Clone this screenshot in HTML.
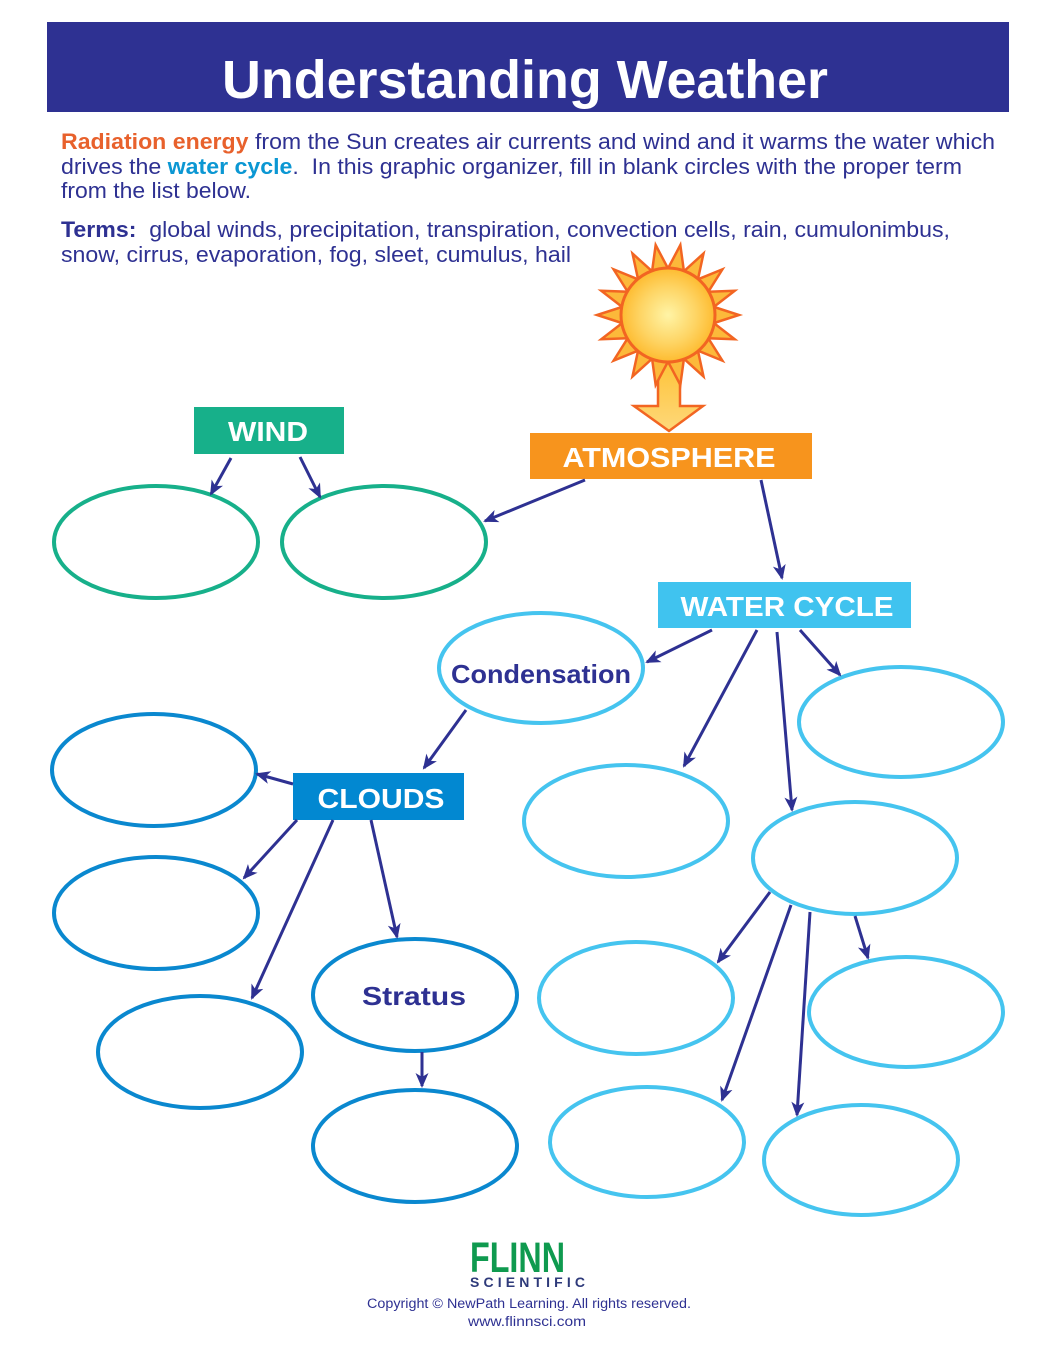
<!DOCTYPE html>
<html>
<head>
<meta charset="utf-8">
<style>
  html,body{margin:0;padding:0;background:#fff;}
  body{width:1046px;height:1357px;overflow:hidden;}
  svg{display:block;}
  text{font-family:"Liberation Sans", sans-serif;white-space:pre;}
</style>
</head>
<body>
<svg width="1046" height="1357" viewBox="0 0 1046 1357" xmlns="http://www.w3.org/2000/svg" xml:space="preserve">
  <defs>
    <marker id="ah" markerUnits="userSpaceOnUse" markerWidth="16" markerHeight="14" refX="13" refY="7" orient="auto">
      <path d="M0,0.5 L15,7 L0,13.5 L4,7 z" fill="#2e3192"/>
    </marker>
    <radialGradient id="sg" cx="0.5" cy="0.5" r="0.55">
      <stop offset="0" stop-color="#fff4a6"/>
      <stop offset="0.55" stop-color="#fed463"/>
      <stop offset="1" stop-color="#fdb523"/>
    </radialGradient>
    <linearGradient id="ag" x1="0" y1="0" x2="0" y2="1">
      <stop offset="0" stop-color="#fdc02f"/>
      <stop offset="1" stop-color="#fed87a"/>
    </linearGradient>
  </defs>

  <!-- Header -->
  <rect x="47" y="22" width="962" height="90" fill="#2e3192"/>
  <text x="525" y="98" text-anchor="middle" font-size="54" font-weight="bold" fill="#fff" textLength="606" lengthAdjust="spacingAndGlyphs">Understanding Weather</text>

  <!-- Intro paragraph -->
  <g font-size="22.5" fill="#2e3192">
    <text x="61" y="149" textLength="934" lengthAdjust="spacingAndGlyphs"><tspan fill="#e8612c" font-weight="bold">Radiation energy</tspan> from the Sun creates air currents and wind and it warms the water which</text>
    <text x="61" y="174" textLength="901" lengthAdjust="spacingAndGlyphs">drives the <tspan fill="#0b97d3" font-weight="bold">water cycle</tspan>.  In this graphic organizer, fill in blank circles with the proper term</text>
    <text x="61" y="198" textLength="190" lengthAdjust="spacingAndGlyphs">from the list below.</text>
    <text x="61" y="237" textLength="889" lengthAdjust="spacingAndGlyphs"><tspan font-weight="bold">Terms:</tspan>  global winds, precipitation, transpiration, convection cells, rain, cumulonimbus,</text>
    <text x="61" y="262" textLength="510" lengthAdjust="spacingAndGlyphs">snow, cirrus, evaporation, fog, sleet, cumulus, hail</text>
  </g>

  <!-- Sun -->
  <g id="sun">
    <!-- arrow down -->
    <polygon points="658,352 680,352 680,406 703,406 669,431 634,406 658,406" fill="url(#ag)" stroke="#f26522" stroke-width="2.5" stroke-linejoin="miter"/>
    <g fill="#fcb93a" stroke="#f26522" stroke-width="2.5" stroke-linejoin="miter">
      <g transform="translate(668,315)">
        <polygon points="-9,-43 0,-71 9,-43" transform="rotate(10)"/>
        <polygon points="-9,-43 0,-71 9,-43" transform="rotate(30)"/>
        <polygon points="-9,-43 0,-71 9,-43" transform="rotate(50)"/>
        <polygon points="-9,-43 0,-71 9,-43" transform="rotate(70)"/>
        <polygon points="-9,-43 0,-71 9,-43" transform="rotate(90)"/>
        <polygon points="-9,-43 0,-71 9,-43" transform="rotate(110)"/>
        <polygon points="-9,-43 0,-71 9,-43" transform="rotate(130)"/>
        <polygon points="-9,-43 0,-71 9,-43" transform="rotate(150)"/>
        <polygon points="-9,-43 0,-71 9,-43" transform="rotate(170)"/>
        <polygon points="-9,-43 0,-71 9,-43" transform="rotate(190)"/>
        <polygon points="-9,-43 0,-71 9,-43" transform="rotate(210)"/>
        <polygon points="-9,-43 0,-71 9,-43" transform="rotate(230)"/>
        <polygon points="-9,-43 0,-71 9,-43" transform="rotate(250)"/>
        <polygon points="-9,-43 0,-71 9,-43" transform="rotate(270)"/>
        <polygon points="-9,-43 0,-71 9,-43" transform="rotate(290)"/>
        <polygon points="-9,-43 0,-71 9,-43" transform="rotate(310)"/>
        <polygon points="-9,-43 0,-71 9,-43" transform="rotate(330)"/>
        <polygon points="-9,-43 0,-71 9,-43" transform="rotate(350)"/>
      </g>
    </g>
    <circle cx="668" cy="315" r="47" fill="url(#sg)" stroke="#f26522" stroke-width="3"/>
  </g>

  <!-- Boxes -->
  <rect x="194" y="407" width="150" height="47" fill="#17b08a"/>
  <text x="268" y="441" text-anchor="middle" font-size="28" font-weight="bold" fill="#fff" textLength="80" lengthAdjust="spacingAndGlyphs">WIND</text>

  <rect x="530" y="433" width="282" height="46" fill="#f7941d"/>
  <text x="669" y="467" text-anchor="middle" font-size="28" font-weight="bold" fill="#fff" textLength="213" lengthAdjust="spacingAndGlyphs">ATMOSPHERE</text>

  <rect x="658" y="582" width="253" height="46" fill="#40c3ef"/>
  <text x="787" y="616" text-anchor="middle" font-size="28" font-weight="bold" fill="#fff" textLength="213" lengthAdjust="spacingAndGlyphs">WATER CYCLE</text>

  <rect x="293" y="773" width="171" height="47" fill="#0288d1"/>
  <text x="381" y="808" text-anchor="middle" font-size="28" font-weight="bold" fill="#fff" textLength="127" lengthAdjust="spacingAndGlyphs">CLOUDS</text>

  <!-- Green ellipses -->
  <g fill="none" stroke="#17b08a" stroke-width="4">
    <ellipse cx="156" cy="542" rx="102" ry="56"/>
    <ellipse cx="384" cy="542" rx="102" ry="56"/>
  </g>

  <!-- Light blue ellipses -->
  <g fill="none" stroke="#45c4ef" stroke-width="4">
    <ellipse cx="541" cy="668" rx="102" ry="55"/>
    <ellipse cx="901" cy="722" rx="102" ry="55"/>
    <ellipse cx="626" cy="821" rx="102" ry="56"/>
    <ellipse cx="855" cy="858" rx="102" ry="56"/>
    <ellipse cx="636" cy="998" rx="97" ry="56"/>
    <ellipse cx="906" cy="1012" rx="97" ry="55"/>
    <ellipse cx="647" cy="1142" rx="97" ry="55"/>
    <ellipse cx="861" cy="1160" rx="97" ry="55"/>
  </g>

  <!-- Cloud (darker blue) ellipses -->
  <g fill="none" stroke="#0a88cf" stroke-width="4">
    <ellipse cx="154" cy="770" rx="102" ry="56"/>
    <ellipse cx="156" cy="913" rx="102" ry="56"/>
    <ellipse cx="200" cy="1052" rx="102" ry="56"/>
    <ellipse cx="415" cy="995" rx="102" ry="56"/>
    <ellipse cx="415" cy="1146" rx="102" ry="56"/>
  </g>

  <text x="541" y="683" text-anchor="middle" font-size="26" font-weight="bold" fill="#2e3192" textLength="180" lengthAdjust="spacingAndGlyphs">Condensation</text>
  <text x="414" y="1005" text-anchor="middle" font-size="26" font-weight="bold" fill="#2e3192" textLength="104" lengthAdjust="spacingAndGlyphs">Stratus</text>

  <!-- Arrows -->
  <g stroke="#2e3192" stroke-width="3" fill="none" marker-end="url(#ah)">
    <line x1="231" y1="458" x2="211" y2="494"/>
    <line x1="300" y1="457" x2="320" y2="497"/>
    <line x1="585" y1="480" x2="485" y2="521"/>
    <line x1="761" y1="480" x2="782" y2="578"/>

    <line x1="712" y1="630" x2="647" y2="662"/>
    <line x1="757" y1="630" x2="684" y2="766"/>
    <line x1="777" y1="632" x2="792" y2="810"/>
    <line x1="800" y1="630" x2="840" y2="675"/>

    <line x1="770" y1="892" x2="718" y2="962"/>
    <line x1="791" y1="905" x2="722" y2="1100"/>
    <line x1="810" y1="912" x2="797" y2="1115"/>
    <line x1="855" y1="916" x2="868" y2="958"/>

    <line x1="466" y1="710" x2="424" y2="768"/>
    <line x1="293" y1="784" x2="257" y2="774"/>
    <line x1="297" y1="820" x2="244" y2="878"/>
    <line x1="333" y1="820" x2="252" y2="998"/>
    <line x1="371" y1="820" x2="397" y2="937"/>
    <line x1="422" y1="1052" x2="422" y2="1086"/>
  </g>

  <!-- Footer -->
  <text x="470" y="1272" font-size="43" font-weight="bold" fill="#0f9a4f" textLength="95" lengthAdjust="spacingAndGlyphs">FLINN</text>
  <text x="470" y="1287" font-size="14" font-weight="bold" fill="#2e3a7a" letter-spacing="3" textLength="118" lengthAdjust="spacing">SCIENTIFIC</text>
  <text x="529" y="1308" text-anchor="middle" font-size="13.5" fill="#2e3192" textLength="324" lengthAdjust="spacingAndGlyphs">Copyright © NewPath Learning. All rights reserved.</text>
  <text x="527" y="1326" text-anchor="middle" font-size="13.5" fill="#2e3192" textLength="118" lengthAdjust="spacingAndGlyphs">www.flinnsci.com</text>
</svg>
</body>
</html>
